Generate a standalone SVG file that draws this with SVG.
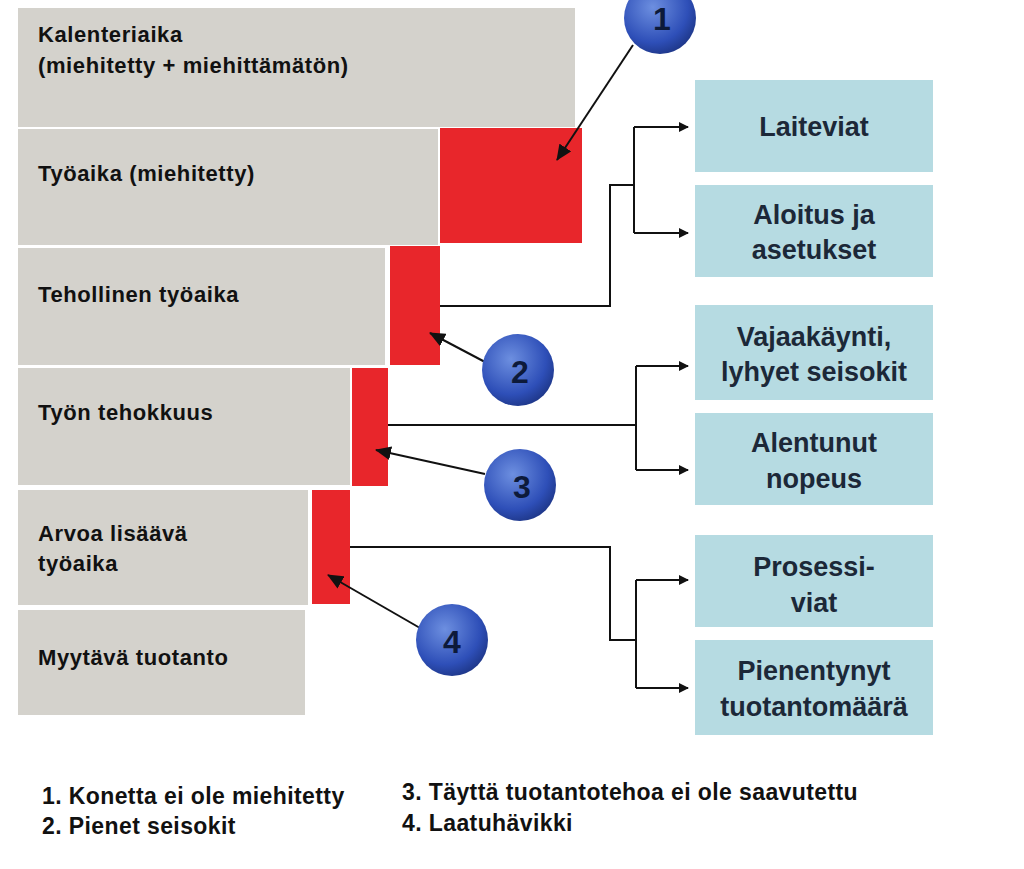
<svg xmlns="http://www.w3.org/2000/svg" width="1024" height="869" viewBox="0 0 1024 869">
<defs>
<marker id="ah" markerWidth="10" markerHeight="10" refX="9" refY="5" orient="auto" markerUnits="userSpaceOnUse"><path d="M0,0 L10,5 L0,10 z" fill="#111"/></marker>
<marker id="ah2" markerWidth="16" markerHeight="14" refX="15" refY="7" orient="auto" markerUnits="userSpaceOnUse"><path d="M0,0 L16,7 L0,14 z" fill="#111"/></marker>
<radialGradient id="ball" cx="0.4" cy="0.35" r="0.7"><stop offset="0" stop-color="#6d8fe0"/><stop offset="0.7" stop-color="#2e4fb8"/><stop offset="1" stop-color="#1d3585"/></radialGradient>
</defs>
<style>
.g{fill:#d4d2cc}
.r{fill:#e8262b}
.b{fill:#b6dbe2}
.t{font-family:"Liberation Sans",Arial,sans-serif;font-weight:bold;font-size:22px;letter-spacing:0.6px;fill:#111}
.bt{font-family:"Liberation Sans",Arial,sans-serif;font-weight:bold;font-size:27px;fill:#1c2838;text-anchor:middle}
.n{font-family:"Liberation Sans",Arial,sans-serif;font-weight:bold;font-size:32px;fill:#0d1a3a;text-anchor:middle}
.ln{fill:none;stroke:#111;stroke-width:2}
.lg{font-family:"Liberation Sans",Arial,sans-serif;font-weight:bold;font-size:23px;letter-spacing:0.4px;fill:#111}
</style>
<g id="bars">
<rect class="g" x="18" y="8" width="557" height="119"/>
<rect class="g" x="18" y="129" width="420" height="116"/>
<rect class="g" x="18" y="248" width="367" height="117"/>
<rect class="g" x="18" y="368" width="332" height="117"/>
<rect class="g" x="18" y="490" width="290" height="115"/>
<rect class="g" x="18" y="610" width="287" height="105"/>
<rect class="r" x="440" y="128" width="142" height="115"/>
<rect class="r" x="390" y="246" width="50" height="119"/>
<rect class="r" x="352" y="368" width="36" height="118"/>
<rect class="r" x="312" y="490" width="38" height="114"/>
<text class="t" x="38" y="42">Kalenteriaika</text>
<text class="t" x="38" y="73">(miehitetty + miehittämätön)</text>
<text class="t" x="38" y="181">Työaika (miehitetty)</text>
<text class="t" x="38" y="302">Tehollinen työaika</text>
<text class="t" x="38" y="420">Työn tehokkuus</text>
<text class="t" x="38" y="541">Arvoa lisäävä</text>
<text class="t" x="38" y="571">työaika</text>
<text class="t" x="38" y="665">Myytävä tuotanto</text>
</g>
<g id="connectors">
<path class="ln" d="M440,306 H610 V185 H634"/>
<path class="ln" d="M634,127 V233"/>
<path class="ln" marker-end="url(#ah)" d="M634,127 H688"/>
<path class="ln" marker-end="url(#ah)" d="M634,233 H688"/>
<path class="ln" d="M388,425 H636"/>
<path class="ln" d="M636,366 V470"/>
<path class="ln" marker-end="url(#ah)" d="M636,366 H688"/>
<path class="ln" marker-end="url(#ah)" d="M636,470 H688"/>
<path class="ln" d="M350,547 H610 V640 H636"/>
<path class="ln" d="M636,580 V688"/>
<path class="ln" marker-end="url(#ah)" d="M636,580 H688"/>
<path class="ln" marker-end="url(#ah)" d="M636,688 H688"/>
<path class="ln" marker-end="url(#ah2)" d="M633,45 L557,160"/>
<path class="ln" marker-end="url(#ah2)" d="M485,362 L430,333"/>
<path class="ln" marker-end="url(#ah2)" d="M485,474 L376,450"/>
<path class="ln" marker-end="url(#ah2)" d="M420,628 L328,575"/>
</g>
<g id="markers">
<circle cx="660" cy="18" r="36" fill="url(#ball)"/><text class="n" x="662" y="30">1</text>
<circle cx="518" cy="370" r="36" fill="url(#ball)"/><text class="n" x="520" y="383">2</text>
<circle cx="520" cy="485" r="36" fill="url(#ball)"/><text class="n" x="522" y="498">3</text>
<circle cx="452" cy="640" r="36" fill="url(#ball)"/><text class="n" x="452" y="653">4</text>
</g>
<g id="b1"><rect class="b" x="695" y="80" width="238" height="92"/><text class="bt" x="814" y="136">Laiteviat</text></g>
<g id="b2"><rect class="b" x="695" y="185" width="238" height="92"/><text class="bt" x="814" y="224">Aloitus ja</text><text class="bt" x="814" y="259">asetukset</text></g>
<g id="b3"><rect class="b" x="695" y="305" width="238" height="95"/><text class="bt" x="814" y="346">Vajaakäynti,</text><text class="bt" x="814" y="381">lyhyet seisokit</text></g>
<g id="b4"><rect class="b" x="695" y="413" width="238" height="92"/><text class="bt" x="814" y="452">Alentunut</text><text class="bt" x="814" y="488">nopeus</text></g>
<g id="b5"><rect class="b" x="695" y="535" width="238" height="92"/><text class="bt" x="814" y="576">Prosessi-</text><text class="bt" x="814" y="612">viat</text></g>
<g id="b6"><rect class="b" x="695" y="640" width="238" height="95"/><text class="bt" x="814" y="680">Pienentynyt</text><text class="bt" x="814" y="716">tuotantomäärä</text></g>
<g id="legend">
<text class="lg" x="42" y="804">1.  Konetta ei ole miehitetty</text>
<text class="lg" x="42" y="834">2.  Pienet seisokit</text>
<text class="lg" x="402" y="800">3.  Täyttä tuotantotehoa ei ole saavutettu</text>
<text class="lg" x="402" y="831">4.  Laatuhävikki</text>
</g>
</svg>
